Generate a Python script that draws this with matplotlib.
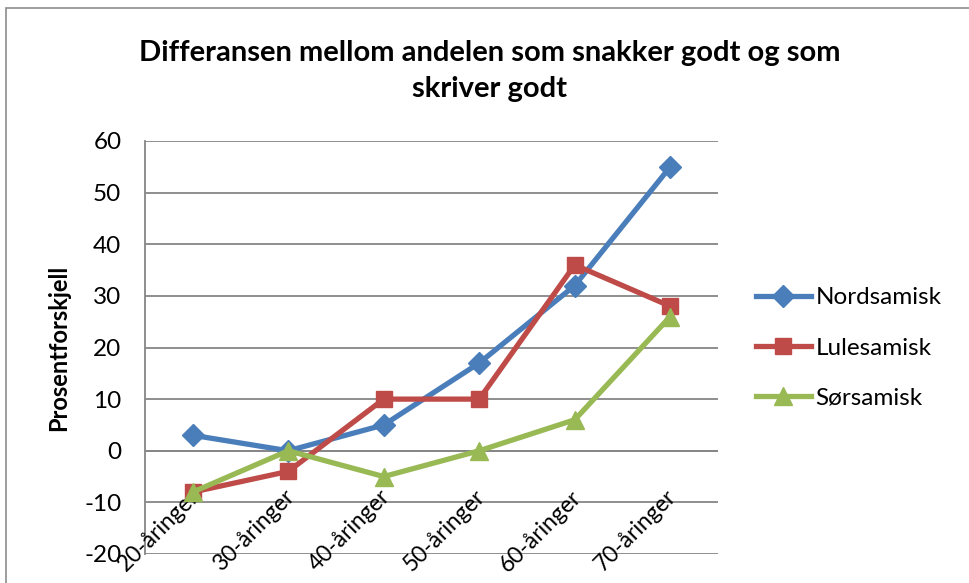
import matplotlib
matplotlib.use("Agg")
import matplotlib.pyplot as plt
from matplotlib.patches import Rectangle

plt.rcParams['font.family'] = ['Lato', 'DejaVu Sans']

categories = ["20-åringer", "30-åringer", "40-åringer", "50-åringer", "60-åringer", "70-åringer"]
nordsamisk = [3, 0, 5, 17, 32, 55]
lulesamisk = [-8, -4, 10, 10, 36, 28]
sorsamisk = [-8, 0, -5, 0, 6, 26]
yticks = [-20, -10, 0, 10, 20, 30, 40, 50, 60]

W, H = 969, 583
fig = plt.figure(figsize=(W / 100, H / 100), dpi=100)
ax = fig.add_axes([145 / W, 1 - 554 / H, (718 - 145) / W, (554 - 141) / H])

x = list(range(len(categories)))
ax.plot(x, nordsamisk, color='#4A7EBB', lw=3.8, marker='D', ms=11.5, label='Nordsamisk', zorder=3)
ax.plot(x, lulesamisk, color='#BE4B48', lw=3.8, marker='s', ms=12, label='Lulesamisk', zorder=4)
ax.plot(x, sorsamisk, color='#98B954', lw=3.8, marker='^', ms=13, label='Sørsamisk', zorder=5)

ax.set_xlim(-0.5, len(categories) - 0.5)
ax.set_ylim(-20, 60)
ax.set_yticks(yticks)
ax.set_yticklabels([str(v) for v in yticks], fontsize=17.5)
ax.yaxis.grid(True, color='#868686', lw=1.3)
ax.set_axisbelow(True)
ax.tick_params(axis='y', length=0, pad=17)
ax.set_xticks([])
for s in ['top', 'right', 'bottom']:
    ax.spines[s].set_visible(False)
ax.spines['left'].set_color('#868686')
ax.spines['left'].set_linewidth(1.3)
ax.axhline(0, color='#868686', lw=1.3, zorder=1)

for i, c in enumerate(categories):
    ax.text(i + 0.03, -8.3, c, rotation=45, rotation_mode='anchor', ha='right', va='center',
            fontsize=16.5, clip_on=False)

ax.set_ylabel('Prosentforskjell', fontsize=17, fontweight='bold', labelpad=10)

fig.text(490 / W, 1 - 71 / H, 'Differansen mellom andelen som snakker godt og som\nskriver godt',
         ha='center', va='center', fontsize=21, fontweight='bold', linespacing=1.45)

fig.legend(loc='center left', bbox_to_anchor=(756 / W, 1 - 348 / H), frameon=False,
           fontsize=17.5, handlelength=2.25, labelspacing=1.2, handletextpad=0.2, borderpad=0,
           borderaxespad=0)

fig.patches.append(Rectangle((6 / W, -0.1), 1.2, 1 - 8 / H + 0.1, transform=fig.transFigure,
                             fill=False, edgecolor='#8c8c8c', lw=1.2))

fig.savefig('out.png', dpi=100)
